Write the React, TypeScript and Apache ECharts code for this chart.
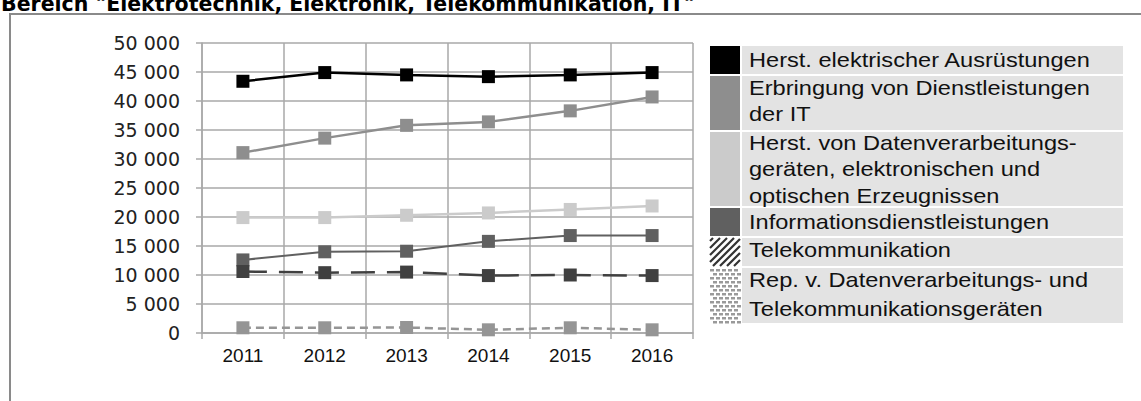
import React, { useEffect, useRef } from "react";
import * as echarts from "echarts";

// ---------- data ----------
const years = ["2011", "2012", "2013", "2014", "2015", "2016"];

const elektrAusruestungen = [43400, 44900, 44500, 44200, 44500, 44900];
const itDienstleistungen = [31100, 33600, 35800, 36400, 38300, 40700];
const datenverarbGeraete = [19900, 19900, 20300, 20700, 21300, 21900];
const informationsDienst = [12600, 14000, 14100, 15800, 16800, 16800];
const telekommunikation = [10600, 10400, 10500, 9900, 10000, 9900];
const reparatur = [900, 900, 950, 550, 900, 550];

const legendLines: string[][] = [
  ["Herst. elektrischer Ausrüstungen"],
  ["Erbringung von Dienstleistungen", "der IT"],
  ["Herst. von Datenverarbeitungs-", "geräten, elektronischen und", "optischen Erzeugnissen"],
  ["Informationsdienstleistungen"],
  ["Telekommunikation"],
  ["Rep. v. Datenverarbeitungs- und", "Telekommunikationsgeräten"],
];

const seriesNames = [
  "Herst. elektrischer Ausrüstungen",
  "Erbringung von Dienstleistungen der IT",
  "Herst. von Datenverarbeitungsgeräten, elektronischen und optischen Erzeugnissen",
  "Informationsdienstleistungen",
  "Telekommunikation",
  "Rep. v. Datenverarbeitungs- und Telekommunikationsgeräten",
];

const seriesValues = [
  elektrAusruestungen,
  itDienstleistungen,
  datenverarbGeraete,
  informationsDienst,
  telekommunikation,
  reparatur,
];

const yMin = 0;
const yMax = 50000;
const yStep = 5000;

const titleText = 'Bereich "Elektrotechnik, Elektronik, Telekommunikation, IT"';

// ---------- styles ----------
const seriesColors = ["#000000", "#8e8e8e", "#cbcbcb", "#606060", "#404040", "#959595"];
const seriesWidths = [2.5, 2.5, 2.5, 2, 2.5, 2.5];
const seriesDash: any[] = ["solid", "solid", "solid", "solid", [24, 12], [8, 5]];
const swatchKinds = ["solid", "solid", "solid", "solid", "hatch", "dots"];

const gridColor = "#a8a8a8";

// legend layout
const legX = 710;
const swW = 30;
const bgX = 742;
const bgRight = 1123;
const rowTops = [46, 76, 132, 208, 238, 268];
const rowHeights = [28, 54, 74, 28, 28, 55];
const rowBaselines = [[67], [95, 121], [150, 176.5, 203], [229], [257], [287, 316.5]];

function fmt(v: number) {
  return String(v).replace(/\B(?=(\d{3})+(?!\d))/g, " ");
}

function buildGraphic() {
  const els: any[] = [];
  // frame
  els.push({
    type: "polyline",
    shape: { points: [[10, 405], [10, 14], [1145, 14]] },
    style: { stroke: "#8a8a8a", lineWidth: 2, fill: null },
    silent: true,
  });
  // title
  els.push({
    type: "text",
    x: 1,
    y: 4,
    style: {
      text: titleText,
      fontFamily: "DejaVu Sans",
      fontWeight: "bold",
      fontSize: 20.5,
      fill: "#000",
      verticalAlign: "middle",
      align: "left",
    },
  });
  // legend
  legendLines.forEach((lines, i) => {
    const top = rowTops[i];
    const h = rowHeights[i];
    els.push({
      type: "rect",
      shape: { x: bgX, y: top, width: bgRight - bgX, height: h },
      style: { fill: "#e3e3e3" },
    });
    const kind = swatchKinds[i];
    if (kind === "solid") {
      els.push({
        type: "rect",
        shape: { x: legX, y: top, width: swW, height: h },
        style: { fill: seriesColors[i] },
      });
    } else if (kind === "hatch") {
      const x0 = legX, y0 = top, x1 = legX + swW, y1 = top + h;
      for (let c = x0 + y0 + 3; c < x1 + y1; c += 7) {
        const xa = Math.max(x0, c - y1);
        const xb = Math.min(x1, c - y0);
        if (xb <= xa) continue;
        els.push({
          type: "line",
          shape: { x1: xa, y1: c - xa, x2: xb, y2: c - xb },
          style: { stroke: "#333", lineWidth: 2.2 },
        });
      }
    } else {
      let r = 0;
      for (let y = top + 1; y < top + h - 1; y += 4, r++) {
        const off = r % 2 === 0 ? 0 : 3;
        for (let x = legX + off; x < legX + swW - 2; x += 6) {
          els.push({
            type: "rect",
            shape: { x, y, width: 4, height: 2.5 },
            style: { fill: "#9a9a9a" },
          });
        }
      }
    }
    lines.forEach((ln, j) => {
      els.push({
        type: "text",
        x: 749,
        y: rowBaselines[i][j] - 7,
        scaleX: 1.18,
        style: {
          text: ln,
          fontFamily: "Liberation Sans",
          fontSize: 20,
          fill: "#111",
          verticalAlign: "middle",
          align: "left",
        },
      });
    });
  });
  return els;
}

export default function App() {
  const ref = useRef<HTMLDivElement>(null);
  useEffect(() => {
    if (!ref.current) return;
    const chart = echarts.init(ref.current, null, { renderer: "svg" });
    chart.setOption({
      animation: false,
      backgroundColor: "#ffffff",
      grid: { left: 202, top: 43, width: 491, height: 290, containLabel: false },
      xAxis: {
        type: "category",
        data: years,
        boundaryGap: true,
        axisLine: { show: true, lineStyle: { color: gridColor, width: 1.5 } },
        axisTick: { show: true, length: 6, lineStyle: { color: gridColor, width: 1.5 } },
        splitLine: { show: true, lineStyle: { color: gridColor, width: 1.5 } },
        axisLabel: {
          margin: 13,
          fontFamily: "Liberation Sans",
          fontSize: 19,
          color: "#111",
        },
      },
      yAxis: {
        type: "value",
        min: yMin,
        max: yMax,
        interval: yStep,
        axisLine: { show: true, lineStyle: { color: gridColor, width: 1.5 } },
        axisTick: { show: true, length: 6, lineStyle: { color: gridColor, width: 1.5 } },
        splitLine: { show: true, lineStyle: { color: gridColor, width: 1.5 } },
        axisLabel: {
          margin: 22,
          fontFamily: "DejaVu Sans",
          fontSize: 19,
          color: "#222",
          formatter: (v: number) => fmt(v),
        },
      },
      series: seriesValues.map((vals, i) => ({
        type: "line",
        name: seriesNames[i],
        data: vals,
        symbol: "rect",
        symbolSize: 13,
        showSymbol: true,
        lineStyle: { color: seriesColors[i], width: seriesWidths[i], type: seriesDash[i] },
        itemStyle: { color: seriesColors[i] },
        emphasis: { disabled: true },
      })),
      graphic: buildGraphic(),
    });
    return () => chart.dispose();
  }, []);
  return (
    <div
      ref={ref}
      style={{ position: "absolute", left: 0, top: 0, width: 1141, height: 401, background: "#fff" }}
    />
  );
}
